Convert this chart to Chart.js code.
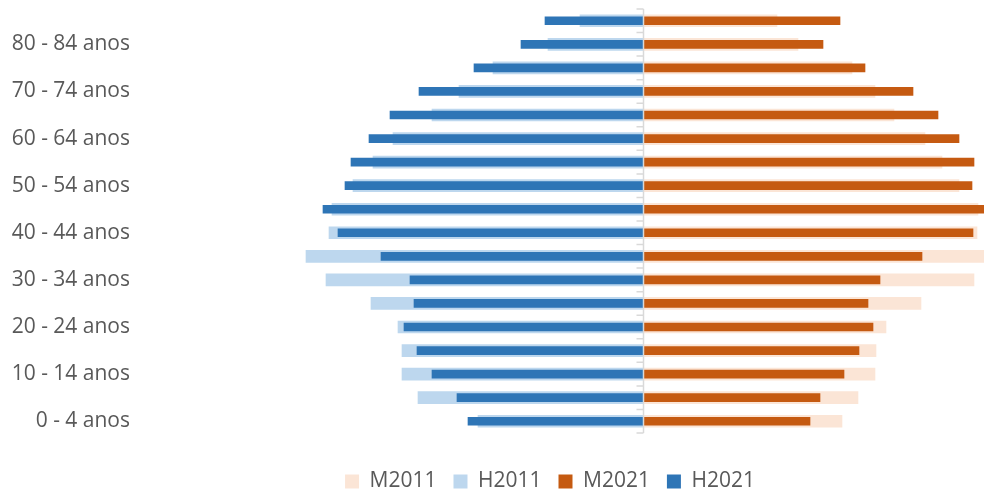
<!DOCTYPE html>
<html><head><meta charset="utf-8">
<script src="https://cdn.jsdelivr.net/npm/chart.js@4.4.1/dist/chart.umd.min.js"></script>
<style>html,body{margin:0;padding:0;background:#fff}canvas{display:block}</style>
</head><body>
<canvas id="c" width="984" height="492"></canvas>
<script>
const categories = ['0 - 4 anos','5 - 9 anos','10 - 14 anos','15 - 19 anos','20 - 24 anos','25 - 29 anos','30 - 34 anos','35 - 39 anos','40 - 44 anos','45 - 49 anos','50 - 54 anos','55 - 59 anos','60 - 64 anos','65 - 69 anos','70 - 74 anos','75 - 79 anos','80 - 84 anos','85 + anos'];
const h2021 = [1750,1860,2110,2260,2390,2290,2330,2620,3050,3200,2980,2920,2740,2530,2240,1690,1220,980];
const h2011 = [1650,2250,2410,2410,2450,2720,3170,3370,3140,3110,2900,2700,2500,2110,1840,1500,950,630];
const m2021 = [1670,1770,2010,2160,2300,2250,2370,2790,3300,3450,3290,3310,3160,2950,2700,2220,1800,1970];
const m2011 = [1990,2150,2320,2330,2430,2780,3310,3500,3340,3350,3160,2990,2820,2510,2320,2090,1550,1340];
const xMin = -5030, xMax = 3410;

const FONT = '"Open Sans", "Liberation Sans", sans-serif';
const GREY = '#595959';

const centerAxis = {
  id: 'centerAxis',
  afterLayout(chart) {
    if (chart.legend) { chart.legend.left += 58; chart.legend.right += 58; }
  },
  afterDatasetsDraw(chart) {
    const {ctx, chartArea, scales} = chart;
    const x = Math.round(scales.x.getPixelForValue(0)) + 0.5;
    const n = categories.length;
    const step = (chartArea.bottom - chartArea.top) / n;
    ctx.save();
    ctx.strokeStyle = '#D9D9D9';
    ctx.lineWidth = 1.5;
    ctx.beginPath();
    ctx.moveTo(x, chartArea.top);
    ctx.lineTo(x, chartArea.bottom);
    for (let i = 0; i <= n; i++) {
      const y = chartArea.top + i * step;
      ctx.moveTo(x - 7, y);
      ctx.lineTo(x, y);
    }
    ctx.stroke();
    ctx.restore();
  }
};

new Chart(document.getElementById('c'), {
  type: 'bar',
  data: {
    labels: categories,
    datasets: [
      {label: 'H2021', data: h2021.map(v => -v), backgroundColor: '#2E75B6', barThickness: 8, grouped: false},
      {label: 'M2021', data: m2021, backgroundColor: '#C55A11', barThickness: 8, grouped: false},
      {label: 'H2011', data: h2011.map(v => -v), backgroundColor: '#BDD7EE', barThickness: 12, grouped: false},
      {label: 'M2011', data: m2011, backgroundColor: '#FBE5D6', barThickness: 12, grouped: false}
    ]
  },
  options: {
    indexAxis: 'y',
    responsive: false,
    animation: false,
    layout: {padding: {top: 9, left: 0, right: 0, bottom: -10}},
    scales: {
      x: {
        min: xMin, max: xMax,
        grid: {display: false}, border: {display: false},
        ticks: {display: false},
        afterFit(s) { s.height = 21; }
      },
      y: {
        reverse: true,
        grid: {display: false, drawTicks: false}, border: {display: false},
        ticks: {
          autoSkip: false, padding: 10, color: GREY,
          font: {family: FONT, size: 21},
          callback(v, i) { return i % 2 === 0 ? categories[i] : ''; }
        },
        afterFit(s) { s.width = 140; s.paddingTop = 0; s.paddingBottom = 0; }
      }
    },
    plugins: {
      tooltip: {enabled: false},
      legend: {
        position: 'bottom',
        labels: {
          boxWidth: 14, boxHeight: 14, padding: 17, color: GREY,
          font: {family: FONT, size: 21},
          sort: (a, b) => b.datasetIndex - a.datasetIndex
        }
      }
    }
  },
  plugins: [centerAxis]
});
</script>
</body></html>
